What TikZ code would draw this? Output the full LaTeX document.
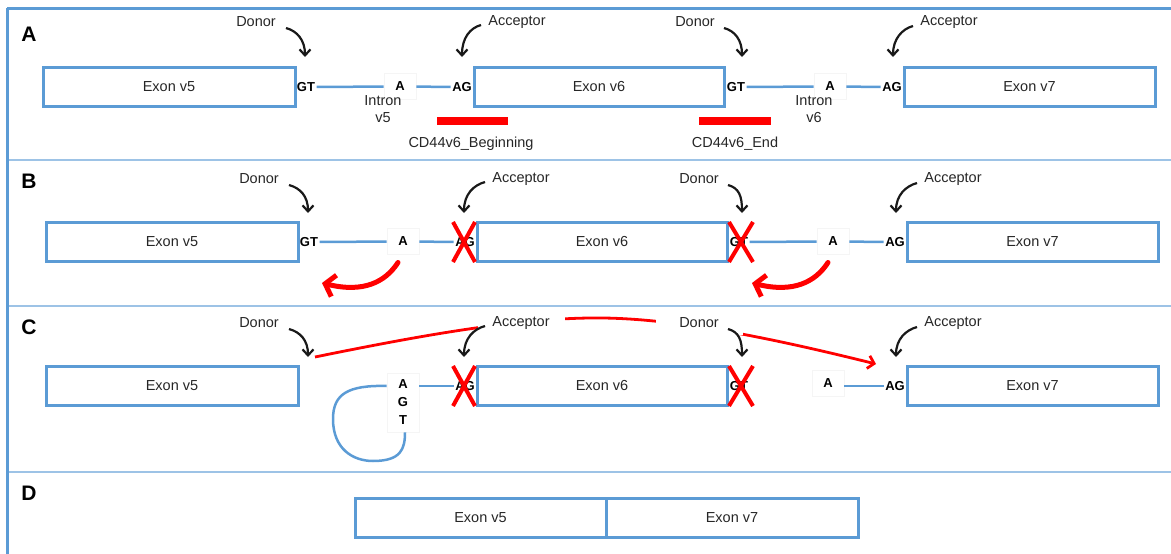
\documentclass[tikz,border=0pt]{standalone}
\usepackage{fontspec}
\setmainfont{Liberation Sans}
\usetikzlibrary{arrows.meta}
\definecolor{exblue}{HTML}{5B9BD5}
\definecolor{sepblue}{HTML}{9DC3E6}
\definecolor{txt}{HTML}{262626}
\definecolor{xred}{HTML}{FF0000}
\tikzset{
 exon/.style={draw=exblue, line width=3pt, minimum height=39pt, inner sep=0pt, text=txt, font=\fontsize{14.5}{17}\selectfont},
 site/.style={font=\fontsize{13}{15}\selectfont\bfseries, inner sep=1.5pt, text=black},
 abox/.style={fill=white, draw=black!4, line width=0.6pt, minimum width=32pt, minimum height=26pt, inner sep=0pt, text=black, font=\fontsize{13}{15}\selectfont\bfseries},
 lbl/.style={font=\fontsize{14.5}{17}\selectfont, inner sep=1pt, text=txt},
 wlbl/.style={lbl, fill=white, minimum width=87pt, minimum height=24pt},
 panel/.style={font=\fontsize{21}{24}\selectfont\bfseries, text=black},
 intr/.style={draw=exblue, line width=2.5pt},
 bendarrow/.style={draw=black!90, line width=2.2pt, -{Straight Barb[length=6pt,width=11pt]}},
 cross/.style={draw=xred, line width=4pt},
 redcurve/.style={draw=xred, line width=5pt, line cap=round, -{Straight Barb[length=9pt,width=22pt]}},
 redpath/.style={draw=xred, line width=2.8pt, -{Straight Barb[length=6pt,width=13pt]}},
 framel/.style={draw=exblue, line width=3pt},
 sepl/.style={draw=sepblue, line width=2pt},
}
\begin{document}
\begin{tikzpicture}[x=1pt,y=-1pt]
\useasboundingbox (0,0) rectangle (1171,554);
% frame
\coordinate (f0) at (7,8);
\coordinate (f1) at (1171,8);
\coordinate (f2) at (7,554);
\coordinate (s1a) at (7,160); \coordinate (s1b) at (1171,160);
\coordinate (s2a) at (7,306); \coordinate (s2b) at (1171,306);
\coordinate (s3a) at (7,472); \coordinate (s3b) at (1171,472);
\draw[sepl] (s1a) -- (s1b);
\draw[sepl] (s2a) -- (s2b);
\draw[sepl] (s3a) -- (s3b);
\draw[framel] (f0) -- (f1);
\draw[framel] (f0) -- (f2);
% panel letters
\node[panel] (pA) at (29,34) {A};
\node[panel] (pB) at (29,181) {B};
\node[panel] (pC) at (29,327) {C};
\node[panel] (pD) at (29,493) {D};

% ===== Panel A =====
\node[exon, minimum width=252pt] (Aex5) at (169,86.5) {Exon v5};
\node[exon, minimum width=250pt] (Aex6) at (599,86.5) {Exon v6};
\node[exon, minimum width=251pt] (Aex7) at (1029.5,86.5) {Exon v7};
\node[site] (Agt1) at (306,87) {GT};
\node[site] (Aag1) at (462,87) {AG};
\node[site] (Agt2) at (736,87) {GT};
\node[site] (Aag2) at (892,87) {AG};
\node[abox] (Aa1) at (400,86.5) {A};
\node[abox] (Aa2) at (830,86.5) {A};
\draw[intr] (Agt1) -- (Aa1);
\draw[intr] (Aa1) -- (Aag1);
\draw[intr] (Agt2) -- (Aa2);
\draw[intr] (Aa2) -- (Aag2);
\node[lbl, align=center, font=\fontsize{14.5}{17}\selectfont] (Ain1) at (383,109.5) {Intron\\v5};
\node[lbl, align=center, font=\fontsize{14.5}{17}\selectfont] (Ain2) at (814,109.5) {Intron\\v6};
\node[lbl] (Ad1) at (256,22) {Donor};
\node[lbl] (Aac1) at (517,22) {Acceptor};
\node[lbl] (Ad2) at (695,22) {Donor};
\node[lbl] (Aac2) at (949,22) {Acceptor};
\coordinate (Atd1) at (305,57);
\coordinate (Ata1) at (462,57);
\coordinate (Atd2) at (742,57);
\coordinate (Ata2) at (893,57);
\draw[bendarrow] ([shift={(30,6)}]Ad1.center) .. controls +(11,3) and +(0,-17) .. (Atd1);
\draw[bendarrow] ([shift={(-36,3)}]Aac1.center) .. controls +(-11,3) and +(0,-19) .. (Ata1);
\draw[bendarrow] ([shift={(29,6)}]Ad2.center) .. controls +(11,3) and +(0,-17) .. (Atd2);
\draw[bendarrow] ([shift={(-36,4)}]Aac2.center) .. controls +(-11,3) and +(0,-18) .. (Ata2);
\node[fill=xred, minimum width=71pt, minimum height=8pt, inner sep=0pt] (Abar1) at (472.5,121) {};
\node[fill=xred, minimum width=72pt, minimum height=8pt, inner sep=0pt] (Abar2) at (735,121) {};
\node[lbl] (Acd1) at (471,144) {CD44v6\_Beginning};
\node[lbl] (Acd2) at (735,144) {CD44v6\_End};

% ===== Panel B =====
\begin{scope}[shift={(3,155)}]
\node[exon, minimum width=252pt] (Bex5) at (169,86.5) {Exon v5};
\node[exon, minimum width=250pt] (Bex6) at (599,86.5) {Exon v6};
\node[exon, minimum width=251pt] (Bex7) at (1029.5,86.5) {Exon v7};
\node[site] (Bgt1) at (306,87) {GT};
\node[site] (Bag1) at (462,87) {AG};
\node[site] (Bgt2) at (736,87) {GT};
\node[site] (Bag2) at (892,87) {AG};
\node[abox] (Ba1) at (400,86.5) {A};
\node[abox] (Ba2) at (830,86.5) {A};
\draw[intr] (Bgt1) -- (Ba1);
\draw[intr] (Ba1) -- (Bag1);
\draw[intr] (Bgt2) -- (Ba2);
\draw[intr] (Ba2) -- (Bag2);
\node[lbl] (Bd1) at (256,24) {Donor};
\node[lbl] (Bac1) at (518,24) {Acceptor};
\node[lbl] (Bd2) at (696,24) {Donor};
\node[lbl] (Bac2) at (950,24) {Acceptor};
\coordinate (Btd1) at (305,58);
\coordinate (Bta1) at (461,58);
\coordinate (Btd2) at (739,58);
\coordinate (Bta2) at (893,58);
\draw[bendarrow] ([shift={(30,6)}]Bd1.center) .. controls +(11,3) and +(0,-17) .. (Btd1);
\draw[bendarrow] ([shift={(-36,3)}]Bac1.center) .. controls +(-11,3) and +(0,-19) .. (Bta1);
\draw[bendarrow] ([shift={(29,6)}]Bd2.center) .. controls +(11,3) and +(0,-17) .. (Btd2);
\draw[bendarrow] ([shift={(-36,4)}]Bac2.center) .. controls +(-11,3) and +(0,-18) .. (Bta2);
\draw[cross] ([shift={(-12,-20)}]Bag1.center) -- ([shift={(10,20)}]Bag1.center);
\draw[cross] ([shift={(10,-20)}]Bag1.center) -- ([shift={(-12,20)}]Bag1.center);
\draw[cross] ([shift={(-10,-20)}]Bgt2.center) -- ([shift={(14,20)}]Bgt2.center);
\draw[cross] ([shift={(14,-20)}]Bgt2.center) -- ([shift={(-10,20)}]Bgt2.center);
\coordinate (Brt1) at (319,128);
\coordinate (Brt2) at (749,128);
\draw[redcurve] ([shift={(-5,21)}]Ba1.center) .. controls +(-13,20) and +(41,10) .. (Brt1);
\draw[redcurve] ([shift={(-5,21)}]Ba2.center) .. controls +(-13,20) and +(41,10) .. (Brt2);
\end{scope}

% ===== Panel C =====
\begin{scope}[shift={(3,299)}]
\node[exon, minimum width=252pt] (Cex5) at (169,86.5) {Exon v5};
\node[exon, minimum width=250pt] (Cex6) at (599,86.5) {Exon v6};
\node[exon, minimum width=251pt] (Cex7) at (1029.5,86.5) {Exon v7};
\node[site] (Cag1) at (462,87) {AG};
\node[site] (Cgt2) at (736,87) {GT};
\node[site] (Cag2) at (892,87) {AG};
\node[abox, minimum height=59pt, align=center, font=\fontsize{13}{18}\selectfont\bfseries] (Cagt) at (400,103.5) {A\\G\\T};
\node[abox] (Ca2) at (825,84) {A};
\draw[intr] (Cagt.east |- Cag1.west) -- (Cag1.west);
\draw[intr] (Ca2.east |- Cag2.west) -- (Cag2.west);
\draw[intr] (Cagt.west |- Cag1.west) .. controls (345,86) and (330,95) .. (330,120)
  .. controls (330,150) and (350,162) .. (370,162)
  .. controls (398,162) and (402,150) .. ([xshift=2pt]Cagt.south);
\coordinate (Ctd1) at (305,58);
\coordinate (Cta1) at (461,58);
\coordinate (Ctd2) at (739,58);
\coordinate (Cta2) at (893,58);
\coordinate (Crs) at (312,58);
\coordinate (Cre) at (873,65);
\draw[redpath] (Crs) .. controls (420,36) and (520,18) .. (600,19) .. controls (680,20) and (780,42) .. (Cre);
\node[lbl] (Cd1) at (256,24) {Donor};
\node[wlbl] (Cac1) at (518,24) {Acceptor};
\node[wlbl] (Cd2) at (696,24) {Donor};
\node[lbl] (Cac2) at (950,24) {Acceptor};
\draw[bendarrow] ([shift={(30,6)}]Cd1.center) .. controls +(11,3) and +(0,-17) .. (Ctd1);
\draw[bendarrow] ([shift={(-36,3)}]Cac1.center) .. controls +(-11,3) and +(0,-19) .. (Cta1);
\draw[bendarrow] ([shift={(29,6)}]Cd2.center) .. controls +(11,3) and +(0,-17) .. (Ctd2);
\draw[bendarrow] ([shift={(-36,4)}]Cac2.center) .. controls +(-11,3) and +(0,-18) .. (Cta2);
\draw[cross] ([shift={(-12,-20)}]Cag1.center) -- ([shift={(10,20)}]Cag1.center);
\draw[cross] ([shift={(10,-20)}]Cag1.center) -- ([shift={(-12,20)}]Cag1.center);
\draw[cross] ([shift={(-10,-20)}]Cgt2.center) -- ([shift={(14,20)}]Cgt2.center);
\draw[cross] ([shift={(14,-20)}]Cgt2.center) -- ([shift={(-10,20)}]Cgt2.center);
\end{scope}

% ===== Panel D =====
\node[exon, minimum width=251pt] (Dex5) at (480.5,517.5) {Exon v5};
\node[exon, minimum width=252pt] (Dex7) at (732,517.5) {Exon v7};
\end{tikzpicture}
\end{document}
